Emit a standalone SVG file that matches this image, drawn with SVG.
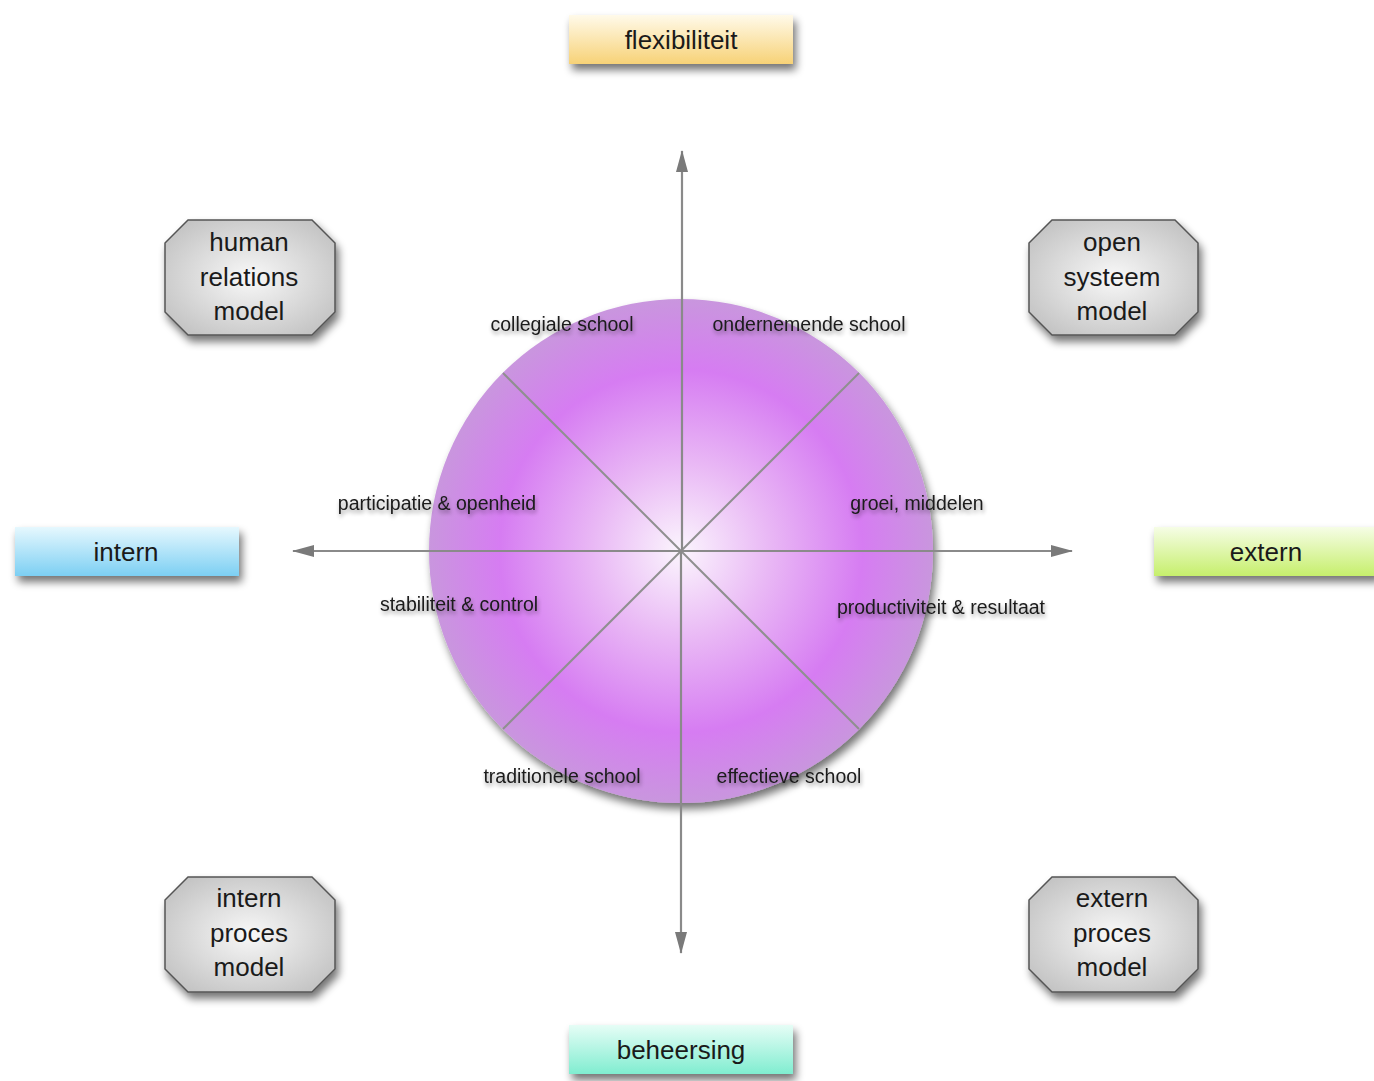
<svg xmlns="http://www.w3.org/2000/svg" width="1374" height="1081" viewBox="0 0 1374 1081">
<defs>
<radialGradient id="disc" cx="0.5" cy="0.5" r="0.5">
<stop offset="0" stop-color="#fbf5fd"/>
<stop offset="0.35" stop-color="#e9b8f5"/>
<stop offset="0.72" stop-color="#d67cf2"/>
<stop offset="1" stop-color="#c996de"/>
</radialGradient>
<radialGradient id="oct" cx="0.5" cy="0.5" r="0.6">
<stop offset="0" stop-color="#f8f8f8"/>
<stop offset="1" stop-color="#c4c4c4"/>
</radialGradient>
<linearGradient id="gYellow" x1="0" y1="0" x2="0" y2="1"><stop offset="0" stop-color="#fffaea"/><stop offset="1" stop-color="#f7d277"/></linearGradient>
<linearGradient id="gBlue" x1="0" y1="0" x2="0" y2="1"><stop offset="0" stop-color="#e6f8fe"/><stop offset="1" stop-color="#7ccff3"/></linearGradient>
<linearGradient id="gGreen" x1="0" y1="0" x2="0" y2="1"><stop offset="0" stop-color="#f6fde6"/><stop offset="1" stop-color="#c6ef6c"/></linearGradient>
<linearGradient id="gTeal" x1="0" y1="0" x2="0" y2="1"><stop offset="0" stop-color="#e6fdf6"/><stop offset="1" stop-color="#80edd0"/></linearGradient>
<filter id="sh" x="-20%" y="-20%" width="150%" height="160%">
<feGaussianBlur in="SourceAlpha" stdDeviation="4"/>
<feOffset dx="3" dy="6" result="b"/>
<feComponentTransfer><feFuncA type="linear" slope="0.55"/></feComponentTransfer>
<feMerge><feMergeNode/><feMergeNode in="SourceGraphic"/></feMerge>
</filter>
<filter id="tsh" x="-10%" y="-30%" width="120%" height="180%">
<feGaussianBlur in="SourceAlpha" stdDeviation="2"/>
<feOffset dx="1" dy="3"/>
<feComponentTransfer><feFuncA type="linear" slope="0.4"/></feComponentTransfer>
<feMerge><feMergeNode/><feMergeNode in="SourceGraphic"/></feMerge>
</filter>
<marker id="ah" viewBox="0 0 12 22" refX="11" refY="6" markerWidth="22" markerHeight="12" markerUnits="userSpaceOnUse" orient="auto">
<path d="M0,0 L22,6 L0,12 Z" fill="#7a7a7a"/>
</marker>
<marker id="arr" viewBox="0 0 22 12" refX="21" refY="6" markerWidth="22" markerHeight="12" markerUnits="userSpaceOnUse" orient="auto">
<path d="M0,0 L22,6 L0,12 Z" fill="#7a7a7a"/>
</marker>
</defs>
<style>
.box{font-family:"Liberation Sans",Arial,sans-serif;font-size:26px;fill:#1a1a1a;text-anchor:middle}
.seg{font-family:"Liberation Sans",Arial,sans-serif;font-size:19.5px;fill:#1a1a1a;text-anchor:middle}
.oct{fill:url(#oct);stroke:#555;stroke-width:1.5}
.axis{stroke:#8a8a8a;stroke-width:2.2;fill:none}
.div{stroke:#8f8f8f;stroke-width:2;fill:none}
</style>
<rect width="1374" height="1081" fill="#ffffff"/>

<g id="disc-node">
<circle cx="681" cy="551" r="252" fill="url(#disc)" filter="url(#sh)"/>
</g>

<g id="connectors">
<line class="div" x1="681" y1="551" x2="503" y2="373"/>
<line class="div" x1="681" y1="551" x2="859" y2="373"/>
<line class="div" x1="681" y1="551" x2="503" y2="729"/>
<line class="div" x1="681" y1="551" x2="859" y2="729"/>
<line class="axis" x1="682" y1="551" x2="682" y2="151" marker-end="url(#arr)"/>
<line class="axis" x1="681" y1="551" x2="681" y2="953" marker-end="url(#arr)"/>
<line class="axis" x1="681" y1="551" x2="293" y2="551" marker-end="url(#arr)"/>
<line class="axis" x1="681" y1="551" x2="1072" y2="551" marker-end="url(#arr)"/>
</g>

<g id="segment-labels" filter="url(#tsh)">
<text class="seg" x="562" y="331">collegiale school</text>
<text class="seg" x="809" y="331">ondernemende school</text>
<text class="seg" x="437" y="510">participatie &amp; openheid</text>
<text class="seg" x="917" y="510">groei, middelen</text>
<text class="seg" x="459" y="611">stabiliteit &amp; control</text>
<text class="seg" x="941" y="614">productiviteit &amp; resultaat</text>
<text class="seg" x="562" y="783">traditionele school</text>
<text class="seg" x="789" y="783">effectieve school</text>
</g>

<g id="flexibiliteit">
<rect x="569" y="15" width="224" height="49" fill="url(#gYellow)" filter="url(#sh)"/>
<text class="box" x="681" y="49">flexibiliteit</text>
</g>
<g id="intern">
<rect x="15" y="527" width="224" height="49" fill="url(#gBlue)" filter="url(#sh)"/>
<text class="box" x="126" y="561">intern</text>
</g>
<g id="extern">
<rect x="1154" y="527" width="224" height="49" fill="url(#gGreen)" filter="url(#sh)"/>
<text class="box" x="1266" y="561">extern</text>
</g>
<g id="beheersing">
<rect x="569" y="1025" width="224" height="49" fill="url(#gTeal)" filter="url(#sh)"/>
<text class="box" x="681" y="1059">beheersing</text>
</g>

<g id="human-relations-model">
<path class="oct" d="M188,220 H312 L335,243 V312 L312,335 H188 L165,312 V243 Z" filter="url(#sh)"/>
<text class="box" x="249" y="251">human</text>
<text class="box" x="249" y="286">relations</text>
<text class="box" x="249" y="320">model</text>
</g>
<g id="open-systeem-model">
<path class="oct" d="M1052,220 H1175 L1198,243 V312 L1175,335 H1052 L1029,312 V243 Z" filter="url(#sh)"/>
<text class="box" x="1112" y="251">open</text>
<text class="box" x="1112" y="286">systeem</text>
<text class="box" x="1112" y="320">model</text>
</g>
<g id="intern-proces-model">
<path class="oct" d="M188,877 H312 L335,900 V969 L312,992 H188 L165,969 V900 Z" filter="url(#sh)"/>
<text class="box" x="249" y="907">intern</text>
<text class="box" x="249" y="942">proces</text>
<text class="box" x="249" y="976">model</text>
</g>
<g id="extern-proces-model">
<path class="oct" d="M1052,877 H1175 L1198,900 V969 L1175,992 H1052 L1029,969 V900 Z" filter="url(#sh)"/>
<text class="box" x="1112" y="907">extern</text>
<text class="box" x="1112" y="942">proces</text>
<text class="box" x="1112" y="976">model</text>
</g>
</svg>
